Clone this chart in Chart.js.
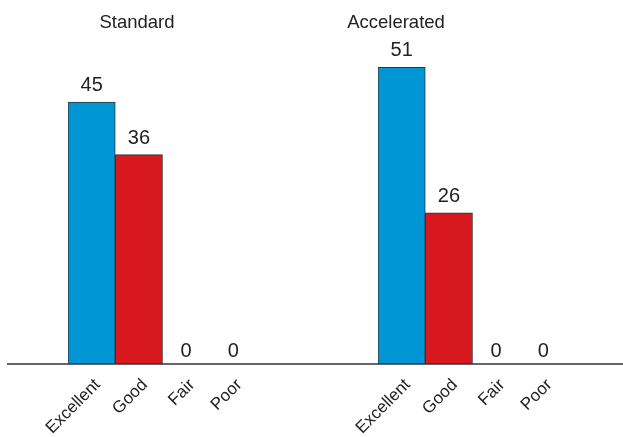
<!DOCTYPE html>
<html>
<head>
<meta charset="utf-8">
<script src="https://cdn.jsdelivr.net/npm/chart.js@4"></script>
<style>
body{margin:0;background:#fff;}
#wrap{display:flex;width:623px;height:437px;}
</style>
</head>
<body>
<div id="wrap">
<canvas id="standardChart" width="310" height="437"></canvas>
<canvas id="acceleratedChart" width="313" height="437"></canvas>
</div>
<script>

// ====================== DATA ======================
const categories = ["Excellent","Good","Fair","Poor"];
const groupNames = ["Standard","Accelerated"];
const standardValues = [45,36,0,0];
const acceleratedValues = [51,26,0,0];
const yMax = 55;

const barColors = ["#0096d6","#d7191f","#8a8a8a","#5a5a5a"];
const fontName = "'Liberation Sans', Arial, sans-serif";


// ====================== PLUGIN: value labels, title, baseline ======================
const extras = {
id:"extras",
afterDatasetsDraw(chart, args, opts){

const ctx = chart.ctx;
const meta = chart.getDatasetMeta(0);
const values = chart.data.datasets[0].data;

ctx.save();
ctx.fillStyle = "#222";
ctx.font = "20px " + fontName;
ctx.textAlign = "center";
ctx.textBaseline = "alphabetic";

meta.data.forEach(function(bar, i){
const gap = values[i] > 0 ? 11 : 7;
ctx.fillText(String(values[i]), bar.x, bar.y - gap);
});

// group title
ctx.font = "18.5px " + fontName;
ctx.fillText(opts.title, opts.titleX, 28);

// baseline across the whole canvas
ctx.strokeStyle = "#333";
ctx.lineWidth = 1.5;
ctx.beginPath();
ctx.moveTo(opts.lineStart, chart.chartArea.bottom);
ctx.lineTo(chart.width, chart.chartArea.bottom);
ctx.stroke();

ctx.restore();
}
};


function makeChart(id, values, title, titleX, lineStart, rightPad){

return new Chart(document.getElementById(id),{

type:"bar",

data:{
labels:categories,
datasets:[{
data:values,
backgroundColor:barColors,
borderColor:"#333",
borderWidth:1,
barPercentage:1,
categoryPercentage:1
}]
},

options:{
responsive:false,
animation:false,
layout:{padding:{left:68,right:rightPad,top:44,bottom:0}},
plugins:{
legend:{display:false},
tooltip:{enabled:false},
extras:{title:title,titleX:titleX,lineStart:lineStart}
},
scales:{
x:{
grid:{display:false},
border:{display:false},
ticks:{
color:"#222",
font:{family:fontName,size:17},
minRotation:45,
maxRotation:45,
padding:3,
labelOffset:6
},
afterFit:function(s){ s.height = 73; }
},
y:{
display:false,
min:0,
max:yMax
}
}
},

plugins:[extras]

});

}

makeChart("standardChart", standardValues, groupNames[0], 137, 7, 53);
makeChart("acceleratedChart", acceleratedValues, groupNames[1], 86, 0, 56);

</script>
</body>
</html>
